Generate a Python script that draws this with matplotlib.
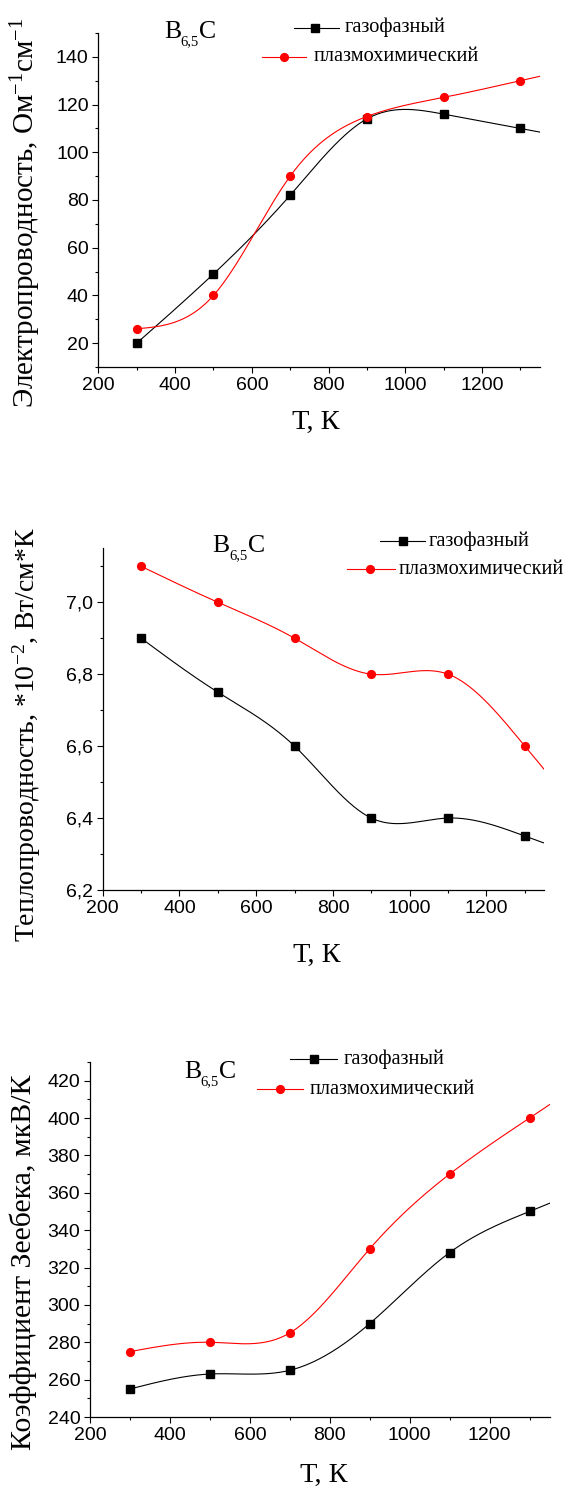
import numpy as np
import matplotlib
matplotlib.use("Agg")
import matplotlib.pyplot as plt
from matplotlib.lines import Line2D
from matplotlib.ticker import MultipleLocator, FuncFormatter

plt.rcParams["mathtext.fontset"] = "custom"
plt.rcParams["mathtext.rm"] = "Liberation Serif"
plt.rcParams["mathtext.it"] = "Liberation Serif:italic"
plt.rcParams["mathtext.bf"] = "Liberation Serif:bold"

# ---- data ----
temperature = [300, 500, 700, 900, 1100, 1300]

cond_gas = [20, 49, 82, 114, 116, 110]
cond_plasma = [26, 40, 90, 115, 123, 130]

heat_gas = [6.90, 6.75, 6.60, 6.40, 6.40, 6.35]
heat_plasma = [7.10, 7.00, 6.90, 6.80, 6.80, 6.60]

seebeck_gas = [255, 263, 265, 290, 328, 350]
seebeck_plasma = [275, 280, 285, 330, 370, 400]

series_names = ["газофазный", "плазмохимический"]
x_label = "Т, К"
y_labels = [
    r"Электропроводность, Ом$^{\mathrm{-1}}$см$^{\mathrm{-1}}$",
    r"Теплопроводность, *10$^{\mathrm{-2}}$, Вт/см*К",
    "Коэффициент Зеебека, мкВ/К",
]

W, H = 565, 1486
SERIF = "Liberation Serif"
SANS = "Liberation Sans"


def natural_spline(x, y, xs):
    x = np.asarray(x, float)
    y = np.asarray(y, float)
    n = len(x)
    h = np.diff(x)
    A = np.zeros((n, n))
    b = np.zeros(n)
    A[0, 0] = 1
    A[-1, -1] = 1
    for i in range(1, n - 1):
        A[i, i - 1] = h[i - 1]
        A[i, i] = 2 * (h[i - 1] + h[i])
        A[i, i + 1] = h[i]
        b[i] = 6 * ((y[i + 1] - y[i]) / h[i] - (y[i] - y[i - 1]) / h[i - 1])
    M = np.linalg.solve(A, b)
    idx = np.clip(np.searchsorted(x, xs) - 1, 0, n - 2)
    x0, x1 = x[idx], x[idx + 1]
    y0, y1 = y[idx], y[idx + 1]
    m0, m1 = M[idx], M[idx + 1]
    hh = x1 - x0
    t0 = x1 - xs
    t1 = xs - x0
    return (m0 * t0 ** 3 / (6 * hh) + m1 * t1 ** 3 / (6 * hh)
            + (y0 / hh - m0 * hh / 6) * t0 + (y1 / hh - m1 * hh / 6) * t1)


def fx(px):
    return px / W


def fy(py):
    return 1 - py / H


def compound_label(x, y):
    # B, subscript "6,5", C drawn as three pieces on one baseline
    fig.text(fx(x), fy(y), "B", family=SERIF, fontsize=18.5, va="baseline")
    fig.text(fx(x + 16.5), fy(y + 7.5), "6,5", family=SERIF, fontsize=10.5,
             va="baseline")
    fig.text(fx(x + 35), fy(y), "C", family=SERIF, fontsize=18.5, va="baseline")


fig = plt.figure(figsize=(W / 100, H / 100), dpi=100)

panels = [
    dict(box=(98.4, 539.5, 33, 367), gas=cond_gas, plasma=cond_plasma,
         ylim=(10, 150), major=20, minor=10, fmt=lambda v, p: f"{v:.0f}",
         ylab=y_labels[0], ylab_size=21, ylab_pos=(26, 213),
         xlab_pos=(316, 422), title=(164, 38),
         leg=[(293.7, 338.7, 315.3, 27.7, 345), (262, 306.3, 284, 56.7, 313.5)]),
    dict(box=(102.7, 544, 548.3, 890), gas=heat_gas, plasma=heat_plasma,
         ylim=(6.2, 7.15), major=0.2, minor=0.1,
         fmt=lambda v, p: f"{v:.1f}".replace(".", ","),
         ylab=y_labels[1], ylab_size=20, ylab_pos=(27, 735),
         xlab_pos=(317, 955), title=(212.7, 551.7),
         leg=[(380, 425, 402.5, 541, 428.8), (347, 394.6, 370, 569.3, 398.2)]),
    dict(box=(90, 549.5, 1062, 1417), gas=seebeck_gas, plasma=seebeck_plasma,
         ylim=(240, 430), major=20, minor=10, fmt=lambda v, p: f"{v:.0f}",
         ylab=y_labels[2], ylab_size=21.5, ylab_pos=(23, 1262),
         xlab_pos=(323.4, 1475), title=(183.8, 1078),
         leg=[(290, 337, 313.5, 1059, 344), (256.6, 302.7, 280.4, 1089.3, 309.2)]),
]

xs = np.linspace(300, 1360, 600)

for p in panels:
    l, r, t, bt = p["box"]
    ax = fig.add_axes([fx(l), fy(bt), (r - l) / W, (bt - t) / H])
    ax.plot(xs, natural_spline(temperature, p["gas"], xs), color="black", lw=0.8)
    ax.plot(temperature, p["gas"], ls="none", marker="s", ms=5.2,
            color="black")
    ax.plot(xs, natural_spline(temperature, p["plasma"], xs), color="red", lw=0.8)
    ax.plot(temperature, p["plasma"], ls="none", marker="o", ms=5.6,
            color="red")

    ax.set_xlim(200, 1350)
    ax.set_ylim(*p["ylim"])
    ax.xaxis.set_major_locator(MultipleLocator(200))
    ax.xaxis.set_minor_locator(MultipleLocator(100))
    ax.yaxis.set_major_locator(MultipleLocator(p["major"]))
    ax.yaxis.set_minor_locator(MultipleLocator(p["minor"]))
    ax.yaxis.set_major_formatter(FuncFormatter(p["fmt"]))
    for s in ("top", "right"):
        ax.spines[s].set_visible(False)
    for s in ("left", "bottom"):
        ax.spines[s].set_linewidth(0.9)
    ax.tick_params(which="major", direction="out", length=4, width=0.8,
                   labelsize=14, pad=3)
    ax.tick_params(which="minor", direction="out", length=2.2, width=0.8)
    for lab in ax.get_xticklabels() + ax.get_yticklabels():
        lab.set_fontfamily(SANS)

    fig.text(fx(p["xlab_pos"][0]), fy(p["xlab_pos"][1]), x_label,
             family=SERIF, fontsize=20.5, ha="center", va="center")
    fig.text(fx(p["ylab_pos"][0]), fy(p["ylab_pos"][1]), p["ylab"],
             family=SERIF, fontsize=p["ylab_size"], ha="center", va="center",
             rotation=90)
    compound_label(*p["title"])

    styles = [("black", "s", 5.2), ("red", "o", 5.6)]
    for (x0, x1, xm, yy, xt), name, (c, m, ms) in zip(p["leg"], series_names, styles):
        fig.add_artist(Line2D([fx(x0), fx(x1)], [fy(yy), fy(yy)],
                              transform=fig.transFigure, color=c, lw=0.8))
        fig.add_artist(Line2D([fx(xm)], [fy(yy)], transform=fig.transFigure,
                              color=c, marker=m, ms=ms, ls="none"))
        fig.text(fx(xt), fy(yy), name, family=SERIF, fontsize=14.6,
                 ha="left", va="center")

fig.savefig("out.png", dpi=100)
